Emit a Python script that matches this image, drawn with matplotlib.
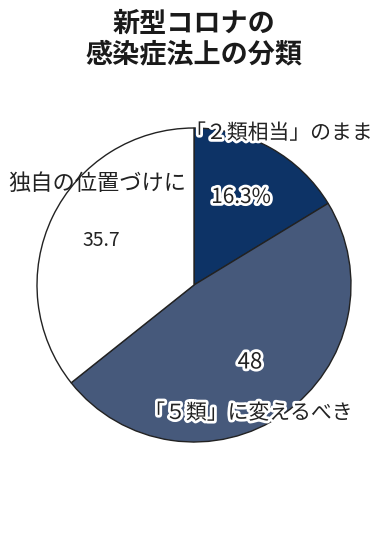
import matplotlib
matplotlib.use("Agg")
import matplotlib.pyplot as plt
import matplotlib.patheffects as pe

plt.rcParams['font.family'] = ['Noto Sans CJK JP', 'DejaVu Sans']

# 回答の割合（%）
categories = ['「２類相当」のまま', '「５類」に変えるべき', '独自の位置づけに']
values = [16.3, 48, 35.7]
value_labels = ['16.3%', '48', '35.7']
colors = ['#0d3366', '#46597b', '#ffffff']

W, H = 388, 539
fig = plt.figure(figsize=(W / 100, H / 100), dpi=100)
ax = fig.add_axes([0, 0, 1, 1])

# ピクセル座標そのままで描く（y は下から）
cx, cy, r = 194, H - 285, 157
ax.pie(values, colors=colors, startangle=90, counterclock=False,
       center=(cx, cy), radius=r,
       wedgeprops=dict(edgecolor='#222222', linewidth=1.0))
ax.set_xlim(0, W)
ax.set_ylim(0, H)
ax.set_aspect('equal')
ax.axis('off')

# タイトル
fig.text(0.5, 1 - 24 / H, '新型コロナの', ha='center', va='center',
         fontsize=19.5, fontweight='bold', color='#1a1a1a')
fig.text(0.5, 1 - 54 / H, '感染症法上の分類', ha='center', va='center',
         fontsize=19.5, fontweight='bold', color='#1a1a1a')

halo = [pe.withStroke(linewidth=4, foreground='white')]

def put(x, y, s, ha='center', size=15, effects=None):
    ax.text(x, H - y, s, ha=ha, va='center', fontsize=size, color='#222222',
            path_effects=effects)

# ラベル
put(373, 133, categories[0], ha='right', effects=halo)
put(353, 413, categories[1], ha='right', effects=halo)
put(8, 183, categories[2], ha='left', size=16)

# 数値
put(241, 197, value_labels[0], size=15, effects=halo)
put(250, 362, value_labels[1], size=16, effects=halo)
put(101, 240, value_labels[2], size=14)

plt.savefig('out.png', dpi=100)
